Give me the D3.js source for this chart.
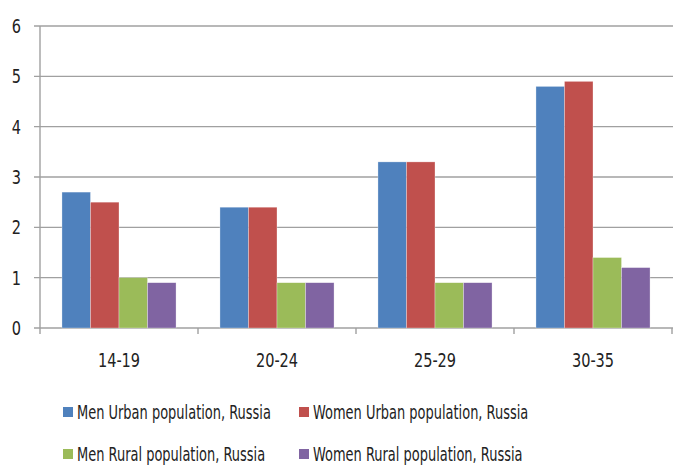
<!DOCTYPE html>
<html>
<head>
<meta charset="utf-8">
<script src="https://cdn.jsdelivr.net/npm/d3@7"></script>
<style>
  body { margin: 0; background: #fff; }
  text { font-family: "DejaVu Sans Condensed", "Liberation Sans", sans-serif; fill: #222; }
</style>
</head>
<body>
<div id="chart"></div>
<script>
const width = 673;
const height = 466;

const categories = ["14-19", "20-24", "25-29", "30-35"];
const seriesNames = [
    "Men Urban population, Russia",
    "Women Urban population, Russia",
    "Men Rural population, Russia",
    "Women Rural population, Russia"
];
const menUrban = [2.7, 2.4, 3.3, 4.8];
const womenUrban = [2.5, 2.4, 3.3, 4.9];
const menRural = [1.0, 0.9, 0.9, 1.4];
const womenRural = [0.9, 0.9, 0.9, 1.2];
const yTicks = [0, 1, 2, 3, 4, 5, 6];
const colors = ["#4F81BD", "#C0504D", "#9BBB59", "#8064A2"];

const series = [menUrban, womenUrban, menRural, womenRural];

const margin = { left: 40, top: 26, bottom: 138 };
const catWidth = 158;

const svg = d3.select("#chart")
    .append("svg")
    .attr("width", width)
    .attr("height", height);

const x = d3.scaleBand()
    .domain(categories)
    .range([margin.left, margin.left + catWidth * categories.length]);

const x1 = d3.scaleBand()
    .domain(d3.range(series.length))
    .range([0, x.bandwidth()])
    .paddingInner(0)
    .paddingOuter(0.77);

const y = d3.scaleLinear()
    .domain([0, 6])
    .range([height - margin.bottom, margin.top]);

// gridlines
svg.append("g")
    .selectAll("line")
    .data(yTicks)
    .enter()
    .append("line")
    .attr("x1", margin.left - 6)
    .attr("x2", width)
    .attr("y1", d => y(d))
    .attr("y2", d => y(d))
    .attr("stroke", "#a0a0a0")
    .attr("stroke-width", 1.4);

// y labels
svg.append("g")
    .selectAll("text")
    .data(yTicks)
    .enter()
    .append("text")
    .attr("transform", d => `translate(21,${y(d)}) scale(0.85,1)`)
    .attr("dy", "0.36em")
    .attr("text-anchor", "end")
    .style("font-size", "19px")
    .text(d => d);

// y axis line
svg.append("line")
    .attr("x1", margin.left)
    .attr("x2", margin.left)
    .attr("y1", y(6))
    .attr("y2", y(0) + 6)
    .attr("stroke", "#a0a0a0")
    .attr("stroke-width", 1.4);

// category ticks
svg.append("g")
    .selectAll("line")
    .data(categories)
    .enter()
    .append("line")
    .attr("x1", d => x(d) + x.step())
    .attr("x2", d => x(d) + x.step())
    .attr("y1", y(0))
    .attr("y2", y(0) + 6)
    .attr("stroke", "#a0a0a0")
    .attr("stroke-width", 1.4);

// bars
const groups = svg.append("g")
    .selectAll("g")
    .data(categories)
    .enter()
    .append("g")
    .attr("transform", d => `translate(${x(d)},0)`);

groups.selectAll("rect")
    .data((d, i) => series.map((s, k) => ({ k, v: s[i] })))
    .enter()
    .append("rect")
    .attr("x", d => x1(d.k))
    .attr("y", d => y(d.v))
    .attr("width", x1.bandwidth())
    .attr("height", d => y(0) - y(d.v))
    .attr("fill", d => colors[d.k])
    .attr("stroke", "#ffffff")
    .attr("stroke-opacity", 0.5)
    .attr("stroke-width", 0.6);

// x labels
svg.append("g")
    .selectAll("text")
    .data(categories)
    .enter()
    .append("text")
    .attr("transform", d => `translate(${x(d) + x.bandwidth() / 2},${y(0) + 32}) scale(0.85,1)`)
    .attr("dy", "0.36em")
    .attr("text-anchor", "middle")
    .style("font-size", "19px")
    .text(d => d);

// legend
const legendPos = [[63, 412], [299, 412], [63, 454], [299, 454]];
const legend = svg.append("g")
    .selectAll("g")
    .data(seriesNames)
    .enter()
    .append("g")
    .attr("transform", (d, i) => `translate(${legendPos[i][0]},${legendPos[i][1]})`);

legend.append("rect")
    .attr("x", 0)
    .attr("y", -5)
    .attr("width", 10)
    .attr("height", 10)
    .attr("fill", (d, i) => colors[i]);

legend.append("text")
    .attr("transform", "translate(14,0) scale(0.76,1)")
    .attr("dy", "0.36em")
    .style("font-size", "19px")
    .text(d => d);
</script>
</body>
</html>
